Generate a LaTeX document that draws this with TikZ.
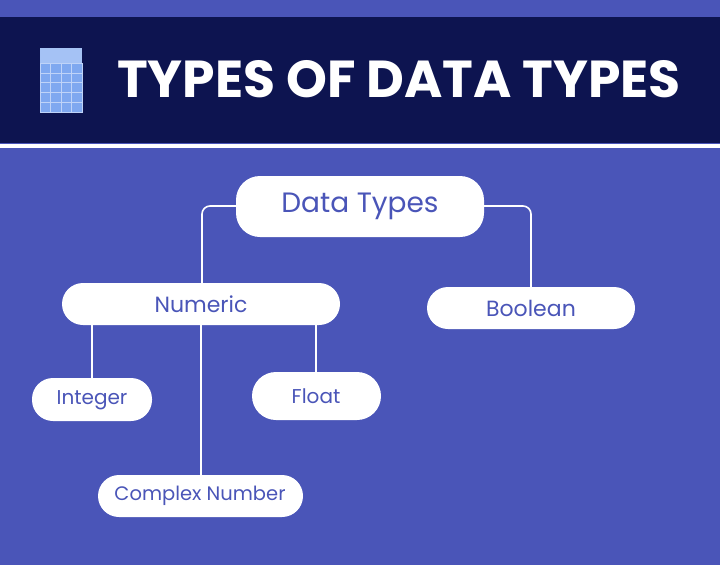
\documentclass[tikz,border=0pt]{standalone}
\usepackage{fontspec}
\setmainfont{Poppins}
\begin{document}
\begin{tikzpicture}[x=1pt,y=-1pt,
  lbl/.style={text=bgblue,inner sep=0pt,font=\fontsize{#1}{#1}\selectfont},
  pill/.style={fill=white,rounded corners=#1},
  link/.style={draw=white,line width=1.6pt,rounded corners=8pt}]
\definecolor{bgblue}{HTML}{4A55B8}
\definecolor{navy}{HTML}{0D1450}
\definecolor{calc}{HTML}{7FA8F0}
\useasboundingbox (0,0) rectangle (720,565);
\fill[bgblue] (0,0) rectangle (720,565);
\fill[navy] (0,17) rectangle (720,143);
\fill[white] (0,144) rectangle (720,148);
% calculator icon
\fill[calc] (40,48) rectangle (82,112);
\fill[calc!70!white] (40,48) rectangle (82,63);
\foreach \i in {0,...,3}{\foreach \j in {0,...,4}{
  \draw[white!50!calc,line width=0.4pt] (40+\i*10.5,63+\j*9.8) rectangle (40+\i*10.5+10.5,63+\j*9.8+9.8);}}
\node[text=white,font=\fontsize{52}{52}\selectfont\bfseries,anchor=center] (title) at (399,79) {TYPES OF DATA TYPES};
% nodes
\fill[pill=24pt] (236,176) rectangle (484,237);
\node[lbl=28] (dt) at (360,206) {Data Types};
\coordinate (dtL) at (236,206); \coordinate (dtR) at (484,206);
\fill[pill=21pt] (62,283) rectangle (340,325);
\node[lbl=22] (num) at (201,304) {Numeric};
\fill[pill=21pt] (427,287) rectangle (635,329);
\node[lbl=22] (bool) at (531,308) {Boolean};
\fill[pill=21pt] (32,378) rectangle (152,421);
\node[lbl=20] (int) at (92,400) {Integer};
\fill[pill=24pt] (252,372) rectangle (381,420);
\node[lbl=20] (flt) at (316,396) {Float};
\fill[pill=21pt] (98,475) rectangle (303,517);
\node[lbl=19.5] (cx) at (200,496) {Complex Number};
% connectors
\coordinate (numT) at (202,283); \coordinate (numB) at (201,325);
\coordinate (boolT) at (531,287);
\draw[link] (dtL) -| (numT);
\draw[link] (dtR) -| (boolT);
\draw[link] (92,325) -- (92,378);
\draw[link] (316,325) -- (316,372);
\draw[link] (numB) -- (201,475);
\end{tikzpicture}
\end{document}
